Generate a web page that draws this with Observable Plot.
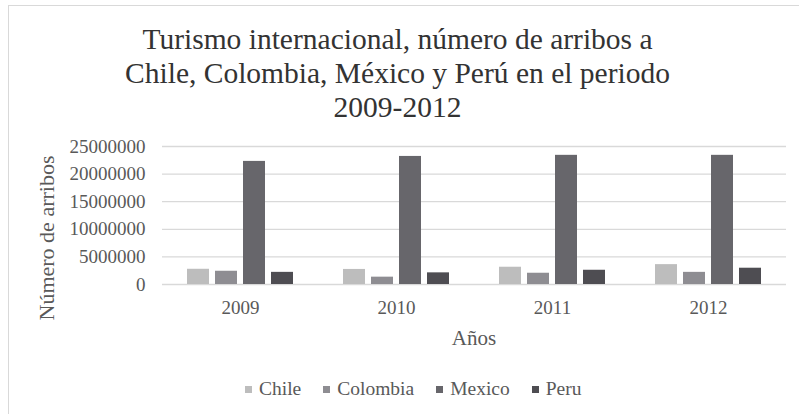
<!DOCTYPE html>
<html>
<head>
<meta charset="utf-8">
<script src="https://cdn.jsdelivr.net/npm/d3@7"></script>
<script src="https://cdn.jsdelivr.net/npm/@observablehq/plot@0.6"></script>
<style>
  html, body { margin: 0; padding: 0; background: #fff; }
  body { width: 799px; height: 414px; position: relative; overflow: hidden; font-family: "Liberation Serif", serif; }
  #frame { position: absolute; left: 8px; top: 5px; width: 900px; height: 500px; border-left: 1px solid #d9d9d9; border-top: 1px solid #d9d9d9; }
  #title { position: absolute; left: 0; width: 795px; top: 22px; text-align: center; font-size: 29.5px; line-height: 34px; color: #333; font-family: "Liberation Serif", serif; }
  #chart { position: absolute; left: 0; top: 130px; }
  #ylabel { position: absolute; left: 47px; top: 238px; transform: translate(-50%, -50%) rotate(-90deg); white-space: nowrap; font-size: 22px; color: #595959; font-family: "Liberation Serif", serif; }
  #xlabel { position: absolute; left: 474px; top: 338px; transform: translate(-50%, -50%); font-size: 21px; color: #595959; font-family: "Liberation Serif", serif; }
  #legend { position: absolute; left: 245px; top: 389px; transform: translateY(-50%); display: flex; align-items: center; font-size: 19.5px; color: #595959; font-family: "Liberation Serif", serif; }
  .item { display: flex; align-items: center; margin-right: 22px; }
  .sw { width: 7px; height: 7px; margin-right: 7px; }
</style>
</head>
<body>
<div id="frame"></div>
<div id="title">Turismo internacional, número de arribos a<br>Chile, Colombia, México y Perú en el periodo<br>2009-2012</div>
<div id="chart"></div>
<div id="ylabel">Número de arribos</div>
<div id="xlabel">Años</div>
<div id="legend"></div>
<script>
const years = ["2009", "2010", "2011", "2012"];
const countries = ["Chile", "Colombia", "Mexico", "Peru"];
const chile = [2760000, 2730000, 3130000, 3600000];
const colombia = [2400000, 1330000, 2040000, 2200000];
const mexico = [22300000, 23200000, 23400000, 23400000];
const peru = [2200000, 2110000, 2580000, 2950000];
const colors = ["#bdbdbd", "#8e8d92", "#67666b", "#4e4d52"];
const yTicks = [0, 5000000, 10000000, 15000000, 20000000, 25000000];

const series = [chile, colombia, mexico, peru];
const data = [];
years.forEach((yr, i) => {
  countries.forEach((c, j) => {
    data.push({ year: yr, country: c, value: series[j][i] });
  });
});

const chart = Plot.plot({
  width: 799,
  height: 200,
  marginTop: 16,
  marginBottom: 46,
  marginLeft: 162,
  marginRight: 13,
  style: { fontFamily: "Liberation Serif, serif", fontSize: "19px", color: "#595959", background: "transparent" },
  fx: { domain: years, padding: 0, label: null, axis: "bottom", tickSize: 0, tickPadding: 16 },
  x: { domain: countries, paddingInner: 0.23, paddingOuter: 0.84, axis: null },
  y: { domain: [0, 25000000], ticks: yTicks, tickFormat: d => String(d), label: null, tickSize: 0, tickPadding: 17, grid: false },
  color: { domain: countries, range: colors },
  marks: [
    Plot.ruleY(yTicks, { stroke: "#d9d9d9", strokeWidth: 1.3 }),
    Plot.barY(data, { fx: "year", x: "country", y: "value", fill: "country" }),
    Plot.axisY({ ticks: yTicks, tickFormat: d => String(d), tickSize: 0, tickPadding: 17, label: null, fontSize: 19 })
  ]
});
document.getElementById("chart").appendChild(chart);

const legend = document.getElementById("legend");
countries.forEach((c, i) => {
  const item = document.createElement("div");
  item.className = "item";
  const sw = document.createElement("div");
  sw.className = "sw";
  sw.style.background = colors[i];
  const t = document.createElement("span");
  t.textContent = c;
  item.appendChild(sw);
  item.appendChild(t);
  legend.appendChild(item);
});
</script>
</body>
</html>
